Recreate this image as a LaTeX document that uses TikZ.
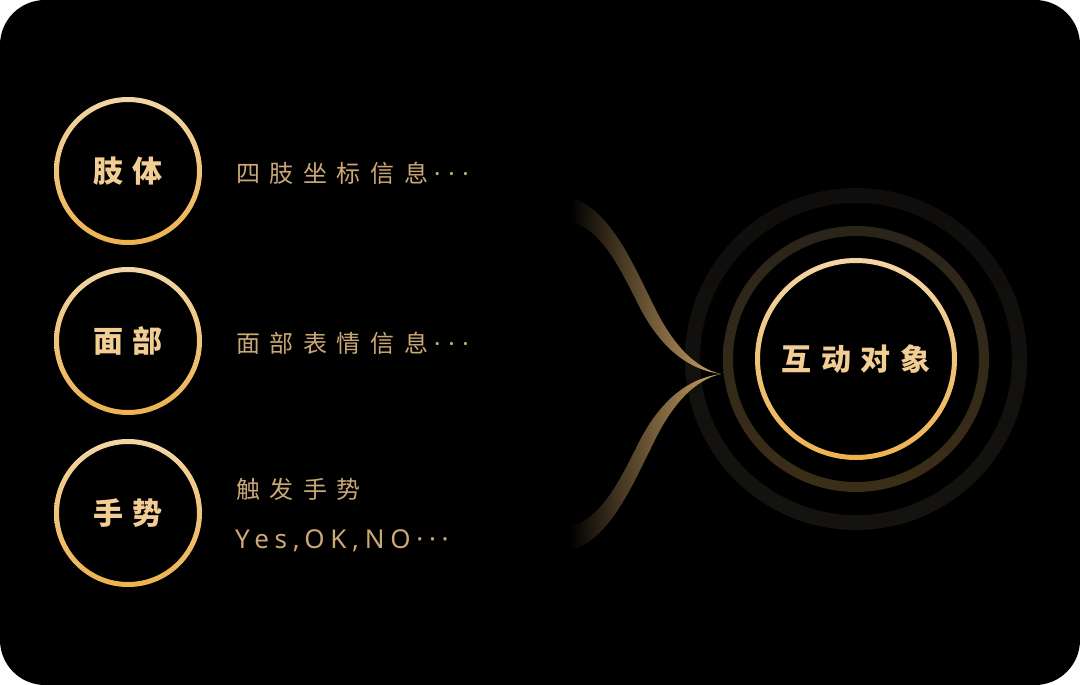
\documentclass[tikz,border=0pt]{standalone}
\usepackage{fontspec}
\setmainfont{Noto Sans CJK SC}
\newfontfamily\lblfont[LetterSpace=30]{Noto Sans CJK SC}
\newfontfamily\objfont[LetterSpace=32]{Noto Sans CJK SC}
\newfontfamily\descfont[LetterSpace=40]{Noto Sans CJK SC}
\newfontfamily\dotfont[LetterSpace=32]{Noto Sans}
\newfontfamily\latfont[LetterSpace=22]{Noto Sans}
\definecolor{goldL}{HTML}{F3D5A6}
\definecolor{goldD}{HTML}{EDB24F}
\definecolor{lblc}{HTML}{F2CE94}
\definecolor{descc}{HTML}{CBA875}
\definecolor{midT}{HTML}{2A2419}
\definecolor{midB}{HTML}{3A2E18}
\definecolor{outT}{HTML}{0F0E0C}
\definecolor{outB}{HTML}{151310}
\definecolor{ribc}{HTML}{CFA566}
\newcommand\goldring[3]{\shade[top color=goldL,bottom color=goldD,even odd rule] (#1) circle[radius=#2] (#1) circle[radius=#3];}
\newcommand\ribbonpath{(-149,-176) .. controls (-111,-164) and (-89,-112) .. (-70,-74) .. controls (-49,-29) and (-26,-6) .. (0,0) .. controls (-31,-4) and (-61,-24) .. (-85,-74) .. controls (-106,-116) and (-123,-146) .. (-151,-152) -- cycle}
\begin{document}
\begin{tikzpicture}[x=1pt,y=-1pt,
  lbl/.style={circle,inner sep=0pt,minimum size=148pt,text=lblc,font=\lblfont\bfseries\fontsize{30}{36}\selectfont},
  obj/.style={circle,inner sep=0pt,minimum size=202pt,text=lblc,font=\objfont\bfseries\fontsize{30}{36}\selectfont},
  desc/.style={anchor=west,inner sep=0pt,text=descc,font=\descfont\fontsize{24}{30}\selectfont},
  descb/.style={anchor=base west,inner sep=0pt,text=descc,font=\latfont\fontsize{26}{30}\selectfont},
  ribbon/.style={left color=black,right color=ribc}]
\useasboundingbox (0,0) rectangle (1080,685);
\fill[white] (0,0) rectangle (1080,685);
\fill[black,rounded corners=45pt] (0,0) rectangle (1080,685);
% left items
\node[lbl] (limb) at (128,171) {肢体};
\node[lbl] (face) at (128,341) {面部};
\node[lbl] (hand) at (128,513) {手势};
\goldring{limb.center}{74pt}{69pt}
\goldring{face.center}{74pt}{69pt}
\goldring{hand.center}{74pt}{69pt}
\node[desc] (limbd) at (236,173) {四肢坐标信息\hspace{6pt}{\dotfont ···}};
\node[desc] (faced) at (236,343.5) {面部表情信息\hspace{6pt}{\dotfont ···}};
\node[desc] (handd) at (236,489.5) {触发手势};
\node[descb] (handd2) at (235,548) {Yes,OK,NO···};
% right target
\node[obj] (obj) at (856,359) {互动对象};
\shade[top color=outT,bottom color=outB,even odd rule] (obj.center) circle[radius=171pt] (obj.center) circle[radius=156pt];
\shade[top color=midT,bottom color=midB,even odd rule] (obj.center) circle[radius=133pt] (obj.center) circle[radius=123pt];
\goldring{obj.center}{101pt}{96pt}
% ribbons
\coordinate (tip) at (721,374);
\begin{scope}[shift={(tip)}]
\shade[ribbon] \ribbonpath;
\end{scope}
\begin{scope}[shift={(tip)},yscale=-1]
\shade[ribbon] \ribbonpath;
\end{scope}
\end{tikzpicture}
\end{document}
